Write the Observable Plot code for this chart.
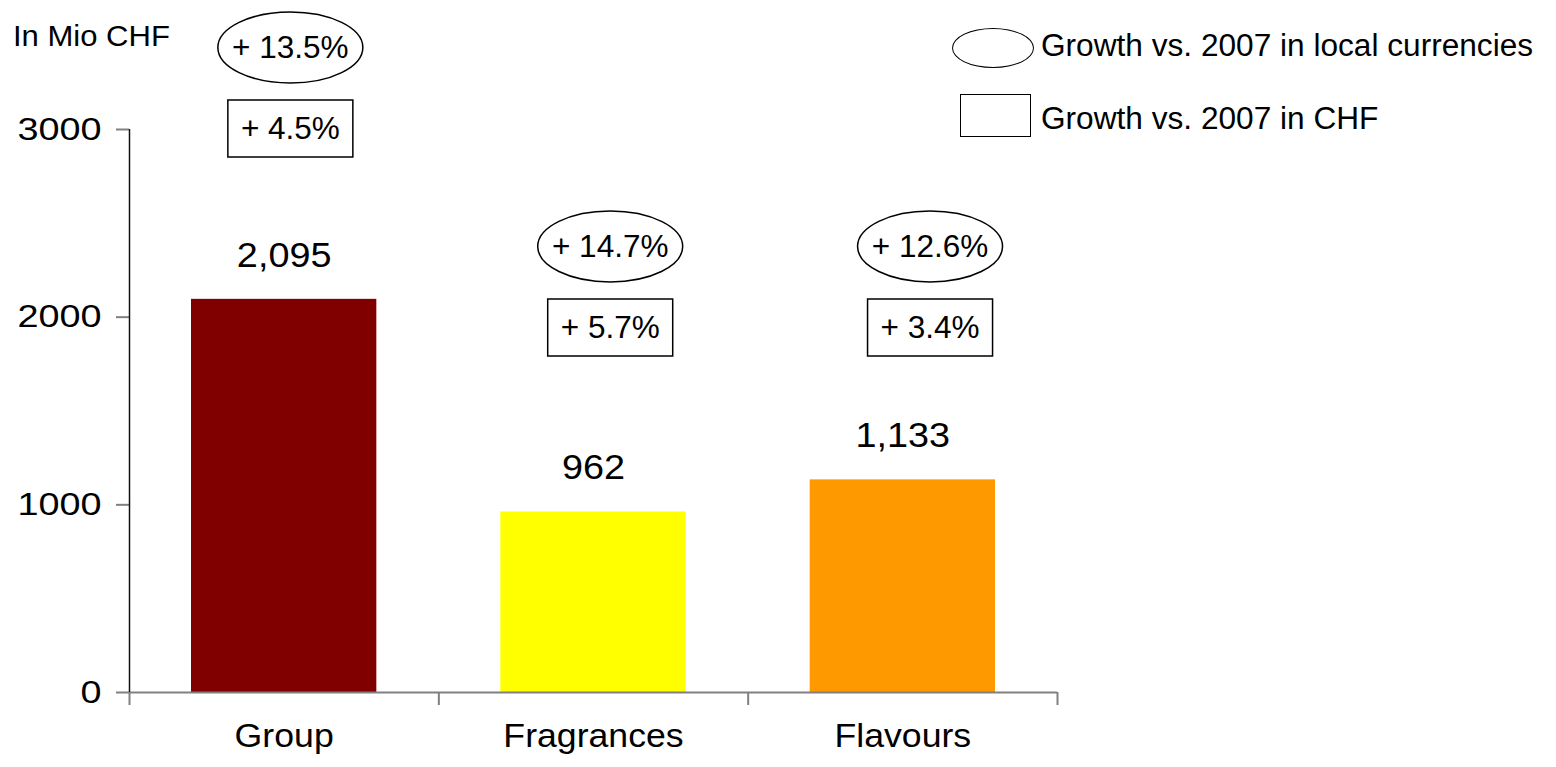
<!DOCTYPE html>
<html><head><meta charset="utf-8">
<script src="https://cdn.jsdelivr.net/npm/d3@7"></script>
<script src="https://cdn.jsdelivr.net/npm/@observablehq/plot@0.6"></script>
<style>
html,body{margin:0;padding:0;background:#fff;}
#chart{position:relative;width:1556px;height:767px;overflow:hidden;font-family:"Liberation Sans",Arial,sans-serif;color:#000;}
#chart svg{position:absolute;left:0;top:0;}
.txt{position:absolute;white-space:nowrap;line-height:1;transform-origin:0 0;}
.ell{position:absolute;box-sizing:border-box;border:1.5px solid #000;border-radius:50%;background:#fff;}
.box{position:absolute;box-sizing:border-box;border:1.5px solid #000;background:#fff;}
</style></head><body><div id="chart"></div>
<script>
// ---- data ----
const categories = ["Group", "Fragrances", "Flavours"];
const sales = [2095, 962, 1133];
const salesLabels = ["2,095", "962", "1,133"];
const growthLocal = ["+ 13.5%", "+ 14.7%", "+ 12.6%"];
const growthCHF = ["+ 4.5%", "+ 5.7%", "+ 3.4%"];
const barColors = ["#800000", "#FFFF00", "#FF9900"];
const yTicks = [0, 1000, 2000, 3000];
const unitLabel = "In Mio CHF";
const legendLabels = ["Growth vs. 2007 in local currencies", "Growth vs. 2007 in CHF"];

const rows = categories.map((category, i) => ({
  i, category, value: sales[i], label: salesLabels[i],
  local: growthLocal[i], chf: growthCHF[i], color: barColors[i]
}));

const mid = d => d.i + 0.5;
// annotation callouts drift slightly right of each bar's centre
const annotX = d => d.i + 0.52 + 0.034 * d.i;
// the group's callouts sit at the top of the axis, the divisions share a lower level
const level = d => d.i === 0 ? 3000 : 1940;

const ellipseSymbol = {draw(ctx) {
  const rx = 72.5, ry = 35.5, k = 0.5523;
  ctx.moveTo(rx, 0);
  ctx.bezierCurveTo(rx, ry * k, rx * k, ry, 0, ry);
  ctx.bezierCurveTo(-rx * k, ry, -rx, ry * k, -rx, 0);
  ctx.bezierCurveTo(-rx, -ry * k, -rx * k, -ry, 0, -ry);
  ctx.bezierCurveTo(rx * k, -ry, rx, -ry * k, rx, 0);
  ctx.closePath();
}};
const boxSymbol = {draw(ctx) { ctx.rect(-62.5, -28.5, 125, 57); }};

const chart = Plot.plot({
  width: 1556,
  height: 767,
  marginLeft: 129,
  marginRight: 499,
  marginTop: 129,
  marginBottom: 75,
  x: {type: "linear", domain: [0, categories.length]},
  y: {domain: [0, 3000]},
  color: {type: "identity"},
  style: {fontFamily: "Liberation Sans, Arial, sans-serif", background: "#fff", color: "#000", overflow: "visible"},
  marks: [
    Plot.rect(rows, {x1: "i", x2: d => d.i + 1, y1: d => 0, y2: "value", fill: "color", insetLeft: 62, insetRight: 62}),
    Plot.axisY({ticks: yTicks, tickSize: 13, tickPadding: 15, tickFormat: d3.format("d"), stroke: "#808080", strokeWidth: 2, fill: "#000", fontSize: 31.5, label: null}),
    Plot.axisX({ticks: d3.range(categories.length + 1), tickSize: 13, tickFormat: () => "", stroke: "#808080", strokeWidth: 2, label: null}),
    Plot.ruleY([0], {stroke: "#808080", strokeWidth: 2}),
    Plot.ruleX([0], {stroke: "#111", strokeWidth: 1.5}),
    Plot.text(rows, {x: mid, frameAnchor: "bottom", dy: 54, text: "category", fontSize: 33, fill: "#000", ariaDescription: "categories"}),
    Plot.text(rows, {x: mid, y: "value", dy: -44, text: "label", fontSize: 35, fill: "#000", ariaDescription: "values"}),
    Plot.dot(rows, {x: annotX, y: level, dy: -82, r: 1, symbol: ellipseSymbol, stroke: "#000", strokeWidth: 1.5, fill: "none"}),
    Plot.dot(rows, {x: annotX, y: level, dy: -1, r: 1, symbol: boxSymbol, stroke: "#000", strokeWidth: 1.5, fill: "none"}),
    Plot.text(rows, {x: annotX, y: level, dy: -82, text: "local", fontSize: 31.5, fill: "#000"}),
    Plot.text(rows, {x: annotX, y: level, dy: -1, text: "chf", fontSize: 31.5, fill: "#000"})
  ]
});

const root = document.getElementById("chart");
root.appendChild(chart);

function stretch(selector, k) {
  chart.querySelectorAll(selector).forEach(t => {
    const len = t.getComputedTextLength();
    if (len > 0) {
      t.setAttribute("textLength", (len * k).toFixed(1));
      t.setAttribute("lengthAdjust", "spacingAndGlyphs");
    }
  });
}
stretch('g[aria-label="y-axis tick label"] text', 1.2);
stretch('g[aria-description="values"] text', 1.08);
stretch('g[aria-description="categories"] text', 1.08);

function addText(str, left, top, size, k) {
  const el = document.createElement("div");
  el.className = "txt";
  el.textContent = str;
  el.style.left = left + "px";
  el.style.top = top + "px";
  el.style.fontSize = size + "px";
  el.style.transform = `scaleX(${k})`;
  root.appendChild(el);
}
function addShape(cls, left, top, w, h) {
  const el = document.createElement("div");
  el.className = cls;
  el.style.left = left + "px";
  el.style.top = top + "px";
  el.style.width = w + "px";
  el.style.height = h + "px";
  root.appendChild(el);
}
addText(unitLabel, 13, 22, 29, 1.07);
addShape("ell", 952, 28, 82, 40);
addShape("box", 960, 94, 71, 43);
addText(legendLabels[0], 1041, 29.5, 31, 1.02);
addText(legendLabels[1], 1041, 103, 31, 1.02);
</script></body></html>
